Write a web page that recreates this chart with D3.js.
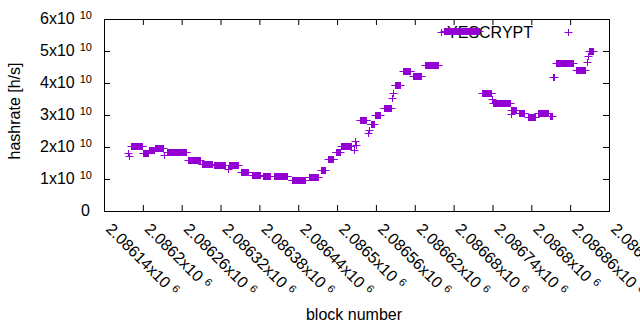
<!DOCTYPE html>
<html>
<head>
<meta charset="utf-8">
<title>YESCRYPT hashrate</title>
<script src="https://cdn.jsdelivr.net/npm/d3@7"></script>
<style>
  body { margin: 0; background: #fff; }
  svg { display: block; font-family: "Liberation Sans", Arial, sans-serif; }
</style>
</head>
<body>
<svg width="640" height="330"></svg>
<script>

// ticks
var xTicks = [2086140, 2086200, 2086260, 2086320, 2086380, 2086440, 2086500,
              2086560, 2086620, 2086680, 2086740, 2086800, 2086860, 2086920];
var xTickText = ["2.08614", "2.0862", "2.08626", "2.08632", "2.08638", "2.08644", "2.0865",
                 "2.08656", "2.08662", "2.08668", "2.08674", "2.0868", "2.08686", "2.08692"];
var yTicks = [0, 1e10, 2e10, 3e10, 4e10, 5e10, 6e10];
var yTickText = ["0", "1", "2", "3", "4", "5", "6"];

// hashrate stays flat over runs of blocks: first block, last block, value (h/s)
var runStart = [2086177, 2086178, 2086182, 2086200, 2086210, 2086219, 2086233, 2086237, 2086270, 2086291,
                2086310, 2086332, 2086333, 2086352, 2086369, 2086386, 2086403, 2086430, 2086457, 2086475,
                2086486, 2086498, 2086506, 2086526, 2086528, 2086529, 2086535, 2086548, 2086549, 2086552,
                2086559, 2086572, 2086585, 2086586, 2086589, 2086602, 2086617, 2086636, 2086660, 2086665,
                2086724, 2086739, 2086741, 2086768, 2086769, 2086781, 2086795, 2086810, 2086829, 2086834,
                2086838, 2086869, 2086886, 2086888, 2086889];
var runEnd   = [2086177, 2086178, 2086199, 2086208, 2086217, 2086231, 2086233, 2086267, 2086288, 2086307,
                2086327, 2086332, 2086347, 2086362, 2086381, 2086396, 2086423, 2086450, 2086470, 2086481,
                2086494, 2086504, 2086521, 2086526, 2086528, 2086529, 2086545, 2086548, 2086549, 2086557,
                2086566, 2086583, 2086585, 2086586, 2086597, 2086613, 2086630, 2086656, 2086660, 2086719,
                2086738, 2086739, 2086767, 2086768, 2086776, 2086789, 2086806, 2086826, 2086832, 2086835,
                2086864, 2086883, 2086886, 2086888, 2086895];
var runValue = [1.80e10, 1.72e10, 2.03e10, 1.80e10, 1.90e10, 1.97e10, 1.75e10, 1.84e10, 1.59e10, 1.48e10,
                1.45e10, 1.31e10, 1.44e10, 1.23e10, 1.14e10, 1.08e10, 1.09e10, 0.97e10, 1.05e10, 1.28e10,
                1.63e10, 1.84e10, 2.03e10, 1.90e10, 2.19e10, 2.06e10, 2.84e10, 2.44e10, 2.53e10, 2.72e10,
                3.00e10, 3.22e10, 3.53e10, 3.69e10, 3.94e10, 4.38e10, 4.23e10, 4.55e10, 5.60e10, 5.61e10,
                3.70e10, 3.50e10, 3.39e10, 3.03e10, 3.16e10, 3.06e10, 2.94e10, 3.06e10, 2.97e10, 4.19e10,
                4.62e10, 4.40e10, 4.65e10, 4.84e10, 5.00e10];

var points = [];
for (var i = 0; i < runStart.length; i++) {
  for (var b = runStart[i]; b <= runEnd[i]; b++) points.push({block: b, rate: runValue[i]});
}

var color = "#9400d3";
var plotL = 104, plotR = 609, plotT = 19, plotB = 211;

var svg = d3.select("svg");

var x = d3.scaleLinear().domain([2086140, 2086920]).range([plotL, plotR]);
var y = d3.scaleLinear().domain([0, 6e10]).range([plotB, plotT]);

// axes, ticks pointing inwards and mirrored
function noDomain(g) { g.select(".domain").remove(); g.selectAll("text").remove(); }

svg.append("g").attr("transform", "translate(0," + plotB + ")")
  .call(d3.axisBottom(x).tickValues(xTicks).tickSizeInner(-6).tickSizeOuter(0).tickFormat(""))
  .call(noDomain);
svg.append("g").attr("transform", "translate(0," + plotT + ")")
  .call(d3.axisTop(x).tickValues(xTicks).tickSizeInner(-6).tickSizeOuter(0).tickFormat(""))
  .call(noDomain);
svg.append("g").attr("transform", "translate(" + plotL + ",0)")
  .call(d3.axisLeft(y).tickValues(yTicks).tickSizeInner(-6).tickSizeOuter(0).tickFormat(""))
  .call(noDomain);
svg.append("g").attr("transform", "translate(" + plotR + ",0)")
  .call(d3.axisRight(y).tickValues(yTicks).tickSizeInner(-6).tickSizeOuter(0).tickFormat(""))
  .call(noDomain);

svg.selectAll("g line").attr("stroke", "#000");

svg.append("rect")
  .attr("x", plotL + 0.5).attr("y", plotT + 0.5)
  .attr("width", plotR - plotL).attr("height", plotB - plotT)
  .attr("fill", "none").attr("stroke", "#000");

// y tick labels
var yl = svg.append("g").selectAll("text")
  .data(yTicks).enter().append("text")
  .attr("x", 92).attr("y", function(d) { return y(d) + 5; })
  .attr("text-anchor", "end")
  .style("font-size", "16px").attr("fill", "#000");
yl.each(function(d, i) {
  var t = d3.select(this);
  if (d === 0) { t.attr("x", 90).text("0"); return; }
  t.append("tspan").text(yTickText[i] + "x10");
  t.append("tspan").attr("dx", 5).attr("dy", -5).style("font-size", "11px").text("10");
});

// x tick labels, rotated
var xl = svg.append("g").selectAll("text")
  .data(xTicks).enter().append("text")
  .attr("transform", function(d) { return "translate(" + (x(d) + 1) + ",230) rotate(45)"; })
  .style("font-size", "16px").attr("fill", "#000");
xl.each(function(d, i) {
  var t = d3.select(this);
  t.append("tspan").text(xTickText[i] + "x10");
  t.append("tspan").attr("dx", 5).attr("dy", -5).style("font-size", "11px").text("6");
});

// axis titles
svg.append("text")
  .attr("transform", "translate(20,111) rotate(-90)")
  .attr("text-anchor", "middle")
  .style("font-size", "16px")
  .text("hashrate [h/s]");

svg.append("text")
  .attr("x", 354).attr("y", 320)
  .attr("text-anchor", "middle")
  .style("font-size", "16px")
  .text("block number");

// key
svg.append("text")
  .attr("x", 533).attr("y", 37.5)
  .attr("text-anchor", "end")
  .style("font-size", "16px")
  .text("YESCRYPT");

var plus = "M-4,0H4M0,-3.5V3.5";

svg.append("path")
  .attr("transform", "translate(568.5,32.5)")
  .attr("d", plus)
  .attr("stroke", color).attr("fill", "none");

// points
svg.append("g").selectAll("path")
  .data(points).enter().append("path")
  .attr("transform", function(d) {
    return "translate(" + (Math.round(x(d.block)) + 0.5) + "," + (Math.round(y(d.rate)) + 0.5) + ")";
  })
  .attr("d", plus)
  .attr("stroke", color)
  .attr("fill", "none");

</script>
</body>
</html>
